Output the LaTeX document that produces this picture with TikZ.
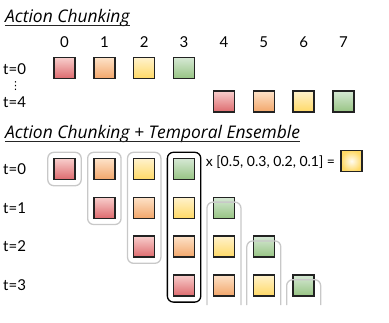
\documentclass[tikz,border=0pt]{standalone}
\usepackage{fontspec}
\setmainfont{Lato}
\newfontfamily\titlefont{Open Sans}
\newfontfamily\symfont{DejaVu Sans}
\usetikzlibrary{fit}
\definecolor{rT}{HTML}{F8CECC}\definecolor{rB}{HTML}{DD6A6E}
\definecolor{oT}{HTML}{FDE2C8}\definecolor{oB}{HTML}{F2A66A}
\definecolor{yT}{HTML}{FFF2CC}\definecolor{yB}{HTML}{FFD966}
\definecolor{gT}{HTML}{D5E8D4}\definecolor{gB}{HTML}{97C483}
\definecolor{boxgray}{HTML}{C8C8C8}
\definecolor{sqline}{HTML}{222222}
\begin{document}
\begin{tikzpicture}[x=1pt,y=-1pt,
  sq/.style={draw=sqline, line width=1.4pt, minimum size=21pt, inner sep=0pt},
  sqR/.style={sq, top color=rT, bottom color=rB},
  sqO/.style={sq, top color=oT, bottom color=oB},
  sqY/.style={sq, top color=yT, bottom color=yB},
  sqG/.style={sq, top color=gT, bottom color=gB},
  lbl/.style={font=\fontsize{15}{17}\selectfont, inner sep=0pt},
  ttl/.style={font=\titlefont\fontsize{17.4}{19}\selectfont\itshape, inner sep=0pt, anchor=base west},
  uline/.style={line width=1.1pt, black!85},
  gbox/.style={draw=boxgray, line width=1.3pt, rounded corners=6pt, inner sep=5.5pt},
  kbox/.style={draw=black, line width=1.3pt, rounded corners=6pt, inner sep=5.5pt},
]
\useasboundingbox (0,0) rectangle (389,322);
% ---- titles
\node[ttl] (t1) at (5,22) {Action Chunking};
\draw[uline] ([yshift=-3.5pt]t1.base west) -- ([yshift=-3.5pt]t1.base east);
\node[ttl] (t2) at (5,138) {Action Chunking + Temporal Ensemble};
\draw[uline] ([yshift=-3.5pt]t2.base west) -- ([yshift=-3.5pt]t2.base east);
% ---- top part
\foreach \i in {0,...,7}{
  \node[lbl] (n\i) at (64.5+39.86*\i,42) {\i};
}
\node[lbl, anchor=west] (ta0) at (3,69) {t=0};
\node[inner sep=0pt, font=\symfont\fontsize{11}{11}\selectfont] (vd) at (15.5,86) {⋮};
\node[lbl, anchor=west] (ta4) at (3,102) {t=4};
\node[sqR] (a0) at (64.5,68) {};
\node[sqO] (a1) at (64.5+39.86,68) {};
\node[sqY] (a2) at (64.5+2*39.86,68) {};
\node[sqG] (a3) at (64.5+3*39.86,68) {};
\node[sqR] (a4) at (64.5+4*39.86,101.5) {};
\node[sqO] (a5) at (64.5+5*39.86,101.5) {};
\node[sqY] (a6) at (64.5+6*39.86,101.5) {};
\node[sqG] (a7) at (64.5+7*39.86,101.5) {};
% ---- bottom part
\foreach \k in {0,...,3}{
  \node[lbl, anchor=west] (tb\k) at (3,169+38.8*\k) {t=\k};
  \pgfmathsetmacro{\yy}{169+38.8*\k}
  \node[sqR] (b-\k-0) at (64.5+39.86*\k,\yy) {};
  \node[sqO] (b-\k-1) at (64.5+39.86*\k+39.86,\yy) {};
  \node[sqY] (b-\k-2) at (64.5+39.86*\k+2*39.86,\yy) {};
  \node[sqG] (b-\k-3) at (64.5+39.86*\k+3*39.86,\yy) {};
}
% closed groups
\node[gbox, fit=(b-0-0)] (g0) {};
\node[gbox, fit=(b-0-1)(b-1-0)] (g1) {};
\node[gbox, fit=(b-0-2)(b-2-0)] (g2) {};
\node[kbox, fit=(b-0-3)(b-3-0)] (g3) {};
% open groups (cut at the bottom)
\coordinate (e4) at ([yshift=-5.5pt]b-1-3.north);
\coordinate (e5) at ([yshift=-5.5pt]b-2-3.north);
\coordinate (e6) at ([yshift=-5.5pt]b-3-3.north);
\foreach \c in {4,5,6}{
  \draw[boxgray, line width=1.3pt, rounded corners=6pt]
    ([xshift=-17pt]e\c |- 0,305) -- ([xshift=-17pt]e\c) -- ([xshift=17pt]e\c) -- ([xshift=17pt]e\c |- 0,305);
}
% result
\node[sq, inner color=white!75!yT, outer color=yB] (res) at (351.5,161) {};
\node[anchor=east, inner sep=0pt, font=\fontsize{14}{16}\selectfont] (w) at ([xshift=-5pt,yshift=-1.5pt]res.west) {x [0.5, 0.3, 0.2, 0.1] =};
\end{tikzpicture}
\end{document}
